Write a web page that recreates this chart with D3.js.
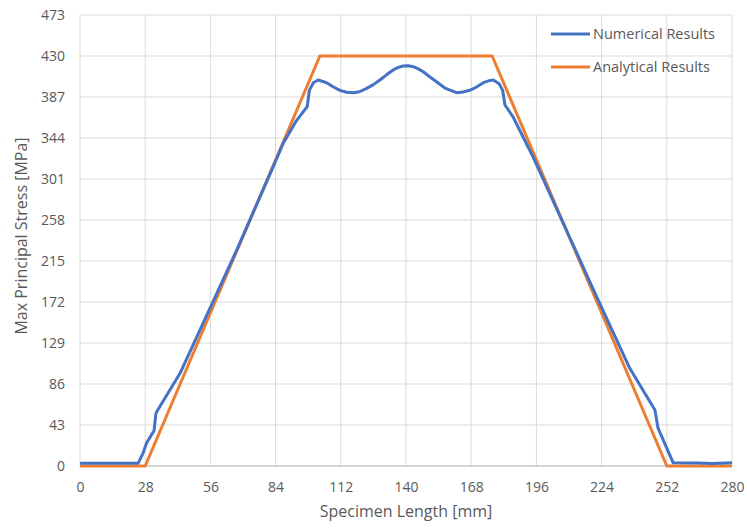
<!DOCTYPE html>
<html>
<head>
	<meta charset="UTF-8">
	<title>Max Principal Stress</title>
	<script src="https://cdn.jsdelivr.net/npm/d3@7"></script>
	<style>
		html, body {
			margin: 0;
			padding: 0;
			background: #fff;
		}
		svg text {
			font-family: "Open Sans", "Liberation Sans", sans-serif;
			fill: #595959;
		}
	</style>
</head>
<body>
	<svg id="chart" width="747" height="529"></svg>
	<script>
		// tick values
		var xTicks = [0, 28, 56, 84, 112, 140, 168, 196, 224, 252, 280];
		var yTicks = [0, 43, 86, 129, 172, 215, 258, 301, 344, 387, 430, 473];

		// Numerical results
		var numX = [0, 25, 27, 28.6, 30, 31.8, 32.6, 33.2, 42.9, 67.3, 83, 87.3, 92.9, 97.6, 98.5, 100.2, 102.3, 105.9, 108.5, 111.6, 114.5, 117.4, 120, 123.1, 126, 128.8, 131.5, 134.5, 136.5, 138.8, 141, 143.1, 145.3, 147.4, 150, 153.1, 157, 161.7, 164.5, 167.4, 170.3, 173.2, 175.5, 177.5, 180, 181.5, 182.5, 186, 194.6, 221.8, 236.1, 246.9, 248.2, 254.7, 265, 272, 280];
		var numY = [3, 3, 13, 24, 30, 37, 55, 58, 97, 226.5, 314, 338.5, 362, 377, 394, 402, 404.8, 402, 398, 394, 392, 391.5, 392.5, 396, 400, 404.8, 410, 415.3, 418, 419.5, 419.8, 418.8, 416.5, 413.5, 408.5, 403, 396, 391.5, 392.3, 394, 397.5, 402, 404, 404.8, 401, 394, 378.6, 366, 324, 178, 102.5, 58.7, 40, 3.5, 3.2, 2.5, 3.5];

		// Analytical results
		var anaX = [0, 28, 103, 177, 252, 280];
		var anaY = [0, 0, 430, 430, 0, 0];

		var seriesNames = ["Numerical Results", "Analytical Results"];
		var colors = ["#4472C4", "#ED7D31"];

		var svg = d3.select("#chart");
		var mLeft = 80, mRight = 732, mTop = 15, mBottom = 466;

		var x = d3.scaleLinear().domain([0, 280]).range([mLeft, mRight]);
		var y = d3.scaleLinear().domain([0, 473]).range([mBottom, mTop]);

		// gridlines
		svg.append("g")
			.selectAll("line")
			.data(yTicks)
			.join("line")
			.attr("x1", mLeft).attr("x2", mRight)
			.attr("y1", d => y(d)).attr("y2", d => y(d))
			.attr("stroke", "#D9D9D9").attr("stroke-width", 1);

		svg.append("g")
			.selectAll("line")
			.data(xTicks)
			.join("line")
			.attr("x1", d => x(d)).attr("x2", d => x(d))
			.attr("y1", mTop).attr("y2", mBottom)
			.attr("stroke", "#D9D9D9").attr("stroke-width", 1);

		// axes (labels only)
		var xAxis = svg.append("g")
			.attr("transform", "translate(0," + mBottom + ")")
			.call(d3.axisBottom(x).tickValues(xTicks).tickSize(0).tickPadding(16));
		var yAxis = svg.append("g")
			.attr("transform", "translate(" + mLeft + ",0)")
			.call(d3.axisLeft(y).tickValues(yTicks).tickSize(0).tickPadding(15));
		[xAxis, yAxis].forEach(function(a) {
			a.select(".domain").remove();
			a.selectAll("text").attr("font-size", 14).attr("fill", "#595959")
				.style("font-family", "'Open Sans', sans-serif");
		});
		xAxis.append("line")
			.attr("x1", mLeft).attr("x2", mRight)
			.attr("stroke", "#BFBFBF");

		// lines
		var line = d3.line()
			.x(d => x(d[0]))
			.y(d => y(d[1]))
			.curve(d3.curveLinear);

		var anaData = d3.zip(anaX, anaY);
		var numData = d3.zip(numX, numY);

		svg.append("path")
			.datum(anaData)
			.attr("fill", "none")
			.attr("stroke", colors[1])
			.attr("stroke-width", 3)
			.attr("stroke-linejoin", "round")
			.attr("d", line);

		svg.append("path")
			.datum(numData)
			.attr("fill", "none")
			.attr("stroke", colors[0])
			.attr("stroke-width", 3)
			.attr("stroke-linejoin", "round")
			.attr("d", line);

		// legend
		var legend = svg.append("g");
		seriesNames.forEach(function(name, i) {
			var ly = 34 + i * 33;
			legend.append("line")
				.attr("x1", 551).attr("x2", 590)
				.attr("y1", ly).attr("y2", ly)
				.attr("stroke", colors[i]).attr("stroke-width", 3);
			legend.append("text")
				.attr("x", 593).attr("y", ly)
				.attr("dy", "0.35em")
				.attr("font-size", 14.5)
				.text(name);
		});

		// axis titles
		svg.append("text")
			.attr("x", (mLeft + mRight) / 2)
			.attr("y", 517)
			.attr("text-anchor", "middle")
			.attr("font-size", 16)
			.text("Specimen Length [mm]");

		svg.append("text")
			.attr("transform", "translate(27,236) rotate(-90)")
			.attr("text-anchor", "middle")
			.attr("font-size", 16)
			.text("Max Principal Stress [MPa]");
	</script>
</body>
</html>
